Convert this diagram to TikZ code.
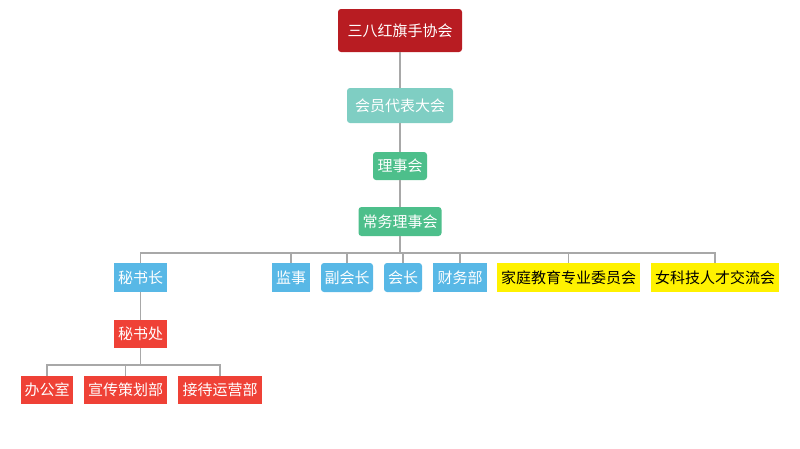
\documentclass[tikz,border=0pt]{standalone}
\usepackage{fontspec}
\newfontfamily\cjk{Noto Sans CJK SC}
\usetikzlibrary{positioning}
\definecolor{topred}{HTML}{B81C22}
\definecolor{tealbox}{HTML}{7FCEC3}
\definecolor{greenbox}{HTML}{4DBF8B}
\definecolor{bluebox}{HTML}{58B8E6}
\definecolor{redbox}{HTML}{EF4136}
\definecolor{linegray}{HTML}{A8A8A8}
\tikzstyle{every node}=[inner sep=0pt,minimum height=29pt,text=white,font=\cjk\fontsize{15pt}{15pt}\selectfont]
\tikzstyle{orgbox}=[rounded corners=3pt]
\tikzstyle{bluecell}=[fill=bluebox]
\tikzstyle{redcell}=[fill=redbox,minimum height=28pt]
\tikzstyle{yellowcell}=[fill=yellow,text=black]
\tikzstyle{link}=[draw=linegray,line width=1.2pt]

\begin{document}
\begin{tikzpicture}[x=1pt,y=-1pt]
    \useasboundingbox (0,0) rectangle (800,448);
    \node[orgbox,fill=topred,minimum width=124pt,minimum height=43pt] (xh) at (400,30.5) {三八红旗手协会};
    \node[orgbox,fill=tealbox,minimum width=106pt,minimum height=35pt] (dbdh) at (400,105.5) {会员代表大会};
    \node[orgbox,fill=greenbox,minimum width=54pt,minimum height=28pt] (lsh) at (400,166) {理事会};
    \node[orgbox,fill=greenbox,minimum width=83pt] (cwlsh) at (400,221.5) {常务理事会};
    \node[bluecell,minimum width=53pt] (msz) at (140.5,277.5) {秘书长};
    \node[bluecell,minimum width=38pt] (js) at (291,277.5) {监事};
    \node[bluecell,orgbox,minimum width=52pt] (fhz) at (347,277.5) {副会长};
    \node[bluecell,orgbox,minimum width=38pt] (hz) at (403,277.5) {会长};
    \node[bluecell,minimum width=54pt] (cwb) at (460,277.5) {财务部};
    \node[yellowcell,minimum width=143pt] (jtjy) at (568.5,277.5) {家庭教育专业委员会};
    \node[yellowcell,minimum width=128pt] (nkj) at (715,277.5) {女科技人才交流会};
    \node[redcell,minimum width=53pt] (msc) at (140.5,334) {秘书处};
    \node[redcell,minimum width=52pt] (bgs) at (47,390) {办公室};
    \node[redcell,minimum width=83pt] (xcch) at (125.5,390) {宣传策划部};
    \node[redcell,minimum width=84pt] (jdyy) at (220,390) {接待运营部};
    % connectors
    \coordinate (bus) at (400,253);
    \coordinate (subbus) at (140.5,365);
    \draw[link] (xh) -- (dbdh);
    \draw[link] (dbdh) -- (lsh);
    \draw[link] (lsh) -- (cwlsh);
    \draw[link] (cwlsh) -- (bus);
    \foreach \n in {msz,js,fhz,hz,cwb,jtjy,nkj}
        \draw[link] (bus) -| (\n.north);
    \draw[link] (msz) -- (msc);
    \draw[link] (msc) -- (subbus);
    \foreach \n in {bgs,xcch,jdyy}
        \draw[link] (subbus) -| (\n.north);
\end{tikzpicture}
\end{document}
